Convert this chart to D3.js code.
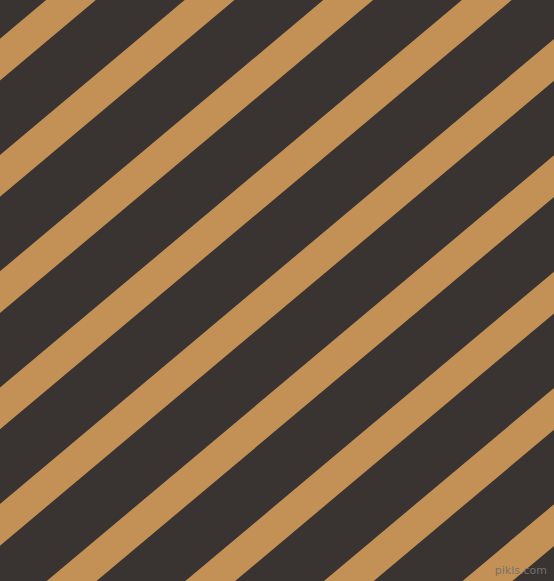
<!DOCTYPE html>
<html>
<head>
<meta charset="utf-8">
<script src="https://cdn.jsdelivr.net/npm/d3@7"></script>
<style>
  html, body { margin: 0; padding: 0; background: #393331; }
  svg { display: block; }
</style>
</head>
<body>
<div class="chart"></div>
<script>
    // stripe indices, the pattern repeats across the whole canvas
    const stripes = [-1, 0, 1, 2, 3, 4, 5, 6, 7, 8, 9];
    const colors = ["#393331", "#c39155"];   // background, stripe
    const watermark = ["pikls.com"];

    const width = 554;
    const height = 581;
    const angle = 40;

    const svg = d3.select(".chart").append("svg")
        .attr("width", width)
        .attr("height", height);

    svg.append("rect")
        .attr("width", width)
        .attr("height", height)
        .attr("fill", colors[0]);

    // offset perpendicular to the stripes (period ~89px)
    const offScale = d3.scaleLinear()
        .domain([0, 1])
        .range([29.6, 29.6 + 89.1]);

    const g = svg.append("g")
        .attr("transform", `rotate(${-angle})`);

    g.selectAll(".stripe")
        .data(stripes)
        .enter()
        .append("rect")
        .attr("class", "stripe")
        .attr("x", -1200)
        .attr("width", 2400)
        .attr("y", d => offScale(d))
        .attr("height", 32)
        .attr("fill", colors[1]);

    svg.selectAll(".mark")
        .data(watermark)
        .enter()
        .append("text")
        .attr("class", "mark")
        .attr("x", 547)
        .attr("y", 574)
        .attr("text-anchor", "end")
        .attr("font-family", "DejaVu Sans, sans-serif")
        .attr("font-size", 11)
        .attr("fill", "#77716c")
        .text(d => d);
</script>
</body>
</html>
